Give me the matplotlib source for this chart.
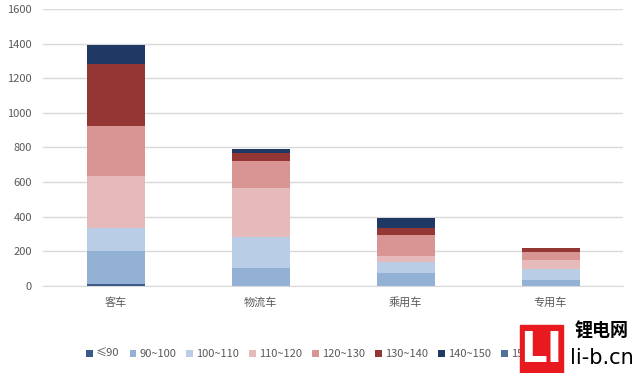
import numpy as np
import matplotlib.pyplot as plt
from matplotlib.patches import Rectangle

plt.rcParams['font.family'] = ['Noto Sans CJK SC', 'DejaVu Sans']

categories = ['客车', '物流车', '乘用车', '专用车']
series_names = ['≤90', '90~100', '100~110', '110~120', '120~130',
                '130~140', '140~150', '150~160']
colors = ['#3b5a88', '#93b0d5', '#b9cde6', '#e6baba', '#d99594',
          '#943634', '#203864', '#4e7099']

# values per series, one per category
v_le90 = [12, 2, 0, 0]
v_90_100 = [188, 104, 77, 37]
v_100_110 = [137, 179, 63, 61]
v_110_120 = [298, 283, 35, 54]
v_120_130 = [289, 156, 120, 46]
v_130_140 = [359, 44, 40, 23]
v_140_150 = [110, 23, 58, 0]
v_150_160 = [0, 0, 0, 0]
values = [v_le90, v_90_100, v_100_110, v_110_120, v_120_130,
          v_130_140, v_140_150, v_150_160]

fig = plt.figure(figsize=(6.36, 3.73), dpi=100)
ax = fig.add_axes([43 / 636, 1 - 286 / 373, 580 / 636, 277 / 373])

x = np.arange(len(categories))
bottom = np.zeros(len(categories))
handles = []
for name, vals, c in zip(series_names, values, colors):
    h = ax.bar(x, vals, width=0.4, bottom=bottom, color=c, label=name,
               zorder=2)
    bottom += np.array(vals)
    handles.append(h)

ax.set_xlim(-0.5, 3.5)
ax.set_ylim(0, 1600)
ax.set_yticks(range(0, 1601, 200))
ax.set_xticks(x)
ax.set_xticklabels(categories)
ax.yaxis.grid(True, color='#d9d9d9', linewidth=1, zorder=0)
for s in ['top', 'right', 'left']:
    ax.spines[s].set_visible(False)
ax.spines['bottom'].set_color('#d9d9d9')
ax.tick_params(axis='both', length=0, colors='#595959', labelsize=8)
ax.tick_params(axis='y', pad=8)
ax.tick_params(axis='x', pad=8)

leg = fig.legend(handles=handles, labels=series_names, loc='center left',
                 bbox_to_anchor=(86 / 636, 1 - 354 / 373), ncol=9,
                 frameon=False, fontsize=8, handlelength=0.6,
                 handleheight=0.6, handletextpad=0.3, columnspacing=0.9,
                 labelcolor='#595959', borderaxespad=0, borderpad=0)
leg.set_zorder(3)

# watermark logo in the lower right corner (covers the last legend entry)
fig.patches.append(Rectangle((520 / 636, 0), 43 / 636, 48 / 373,
                             transform=fig.transFigure, color='#e8191f',
                             zorder=10))
fig.text(541 / 636, 1 - 350 / 373, 'LI', color='white', fontsize=30,
         fontweight='bold', ha='center', va='center', zorder=11,
         family='DejaVu Sans')
fig.text(602 / 636, 1 - 331 / 373, '锂电网', color='black', fontsize=13,
         fontweight='bold', ha='center', va='center', zorder=11)
fig.text(602 / 636, 1 - 358 / 373, 'li-b.cn', color='black', fontsize=15,
         ha='center', va='center', zorder=11,
         family=['Liberation Sans Narrow', 'DejaVu Sans'])

fig.savefig('out.png', dpi=100)
